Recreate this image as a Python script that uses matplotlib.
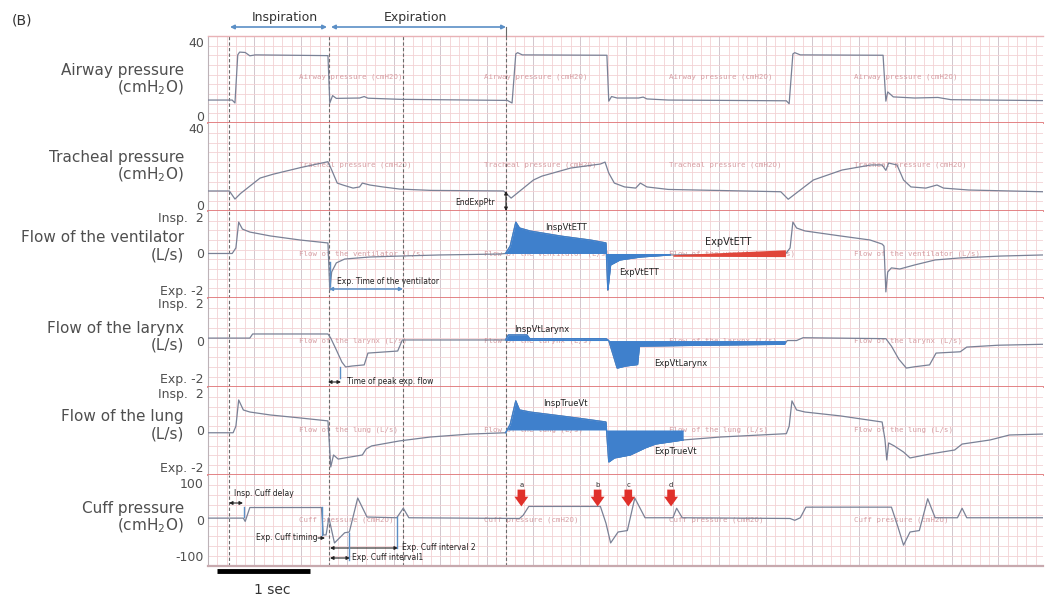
import numpy as np
import matplotlib
matplotlib.use("Agg")
import matplotlib.pyplot as plt
from matplotlib.patches import FancyArrowPatch
from matplotlib.ticker import MultipleLocator, FixedLocator

# ---------------- data (time in s; values in panel units) ----------------
airway_t = [0.00, 0.26, 0.29, 0.32, 0.34, 0.40, 0.45, 0.51, 1.29, 1.31, 1.34, 1.38, 1.63, 1.68,
            1.72, 2.06, 3.22, 3.27, 3.31, 3.33, 3.38, 4.29, 4.31, 4.34, 4.40, 4.63, 4.68, 4.72,
            4.95, 6.22, 6.25, 6.29, 6.31, 6.37, 7.26, 7.29, 7.31, 7.37, 7.60, 7.85, 7.99, 8.98]
airway_v = [8.6, 8.6, 7.0, 33.0, 34.5, 34.3, 32.5, 33.0, 32.6, 7.0, 11.0, 9.5, 9.7, 10.5,
            9.6, 9.0, 8.4, 7.0, 33.5, 34.2, 33.0, 32.8, 8.0, 10.5, 9.7, 9.7, 10.2, 9.2,
            8.6, 8.2, 6.6, 33.5, 34.2, 33.0, 32.8, 8.0, 13.0, 10.3, 9.7, 10.0, 8.8, 8.3]

tracheal_t = [0.00, 0.23, 0.29, 0.35, 0.56, 0.70, 1.00, 1.29, 1.33, 1.39, 1.45, 1.56, 1.63, 1.66,
              1.74, 1.88, 2.06, 2.40, 3.18, 3.26, 3.50, 3.59, 3.90, 4.22, 4.27, 4.31, 4.37, 4.48,
              4.60, 4.65, 4.72, 4.95, 6.16, 6.24, 6.51, 6.82, 7.13, 7.25, 7.29, 7.32, 7.41, 7.48,
              7.56, 7.72, 7.84, 7.91, 8.18, 8.98]
tracheal_v = [7.3, 7.3, 3.1, 6.0, 14.0, 16.0, 19.5, 22.5, 18.2, 11.4, 10.4, 8.8, 9.4, 11.4,
              10.4, 9.4, 8.3, 7.6, 7.3, 3.6, 13.0, 15.0, 19.2, 21.3, 22.3, 16.6, 11.4, 9.4,
              8.8, 11.4, 9.4, 8.1, 6.9, 3.0, 13.0, 18.2, 20.8, 20.8, 18.0, 21.8, 20.8, 13.0,
              9.4, 8.8, 10.4, 8.8, 7.8, 6.9]

vent_t = [0.00, 0.26, 0.30, 0.33, 0.37, 0.45, 0.67, 0.99, 1.29, 1.31, 1.33, 1.38, 1.47, 1.74,
          2.06, 2.49, 3.14, 3.20, 3.25, 3.31, 3.35, 3.46, 3.78, 4.11, 4.28, 4.30, 4.33, 4.43,
          4.65, 4.97, 6.21, 6.26, 6.29, 6.33, 6.42, 6.80, 7.12, 7.25, 7.27, 7.29, 7.31, 7.35,
          7.44, 7.60, 7.82, 8.09, 8.52, 8.98]
vent_v = [0.0, 0.0, 0.3, 1.70, 1.32, 1.16, 0.95, 0.73, 0.57, -2.0, -1.0, -0.51, -0.30, -0.19,
          -0.14, -0.08, -0.03, 0.0, 0.4, 1.70, 1.38, 1.22, 0.95, 0.73, 0.57, -2.0, -0.62, -0.35,
          -0.19, -0.08, -0.03, 0.3, 1.70, 1.38, 1.22, 0.95, 0.73, 0.51, 0.40, -2.08, -1.0, -0.78,
          -0.84, -0.62, -0.35, -0.24, -0.14, -0.08]

larynx_t = [0.00, 0.45, 0.48, 1.29, 1.32, 1.38, 1.44, 1.48, 1.55, 1.68, 1.72, 2.04, 2.09, 3.20,
            3.23, 3.43, 3.46, 4.28, 4.31, 4.36, 4.40, 4.49, 4.62, 4.64, 5.29, 6.20, 6.23, 6.33,
            6.40, 7.29, 7.35, 7.43, 7.51, 7.60, 7.76, 7.83, 8.09, 8.16, 8.50, 8.98]
larynx_v = [0.13, 0.13, 0.35, 0.35, 0.13, -0.5, -1.15, -1.41, -1.36, -1.30, -0.67, -0.56, 0.03, 0.03,
            0.30, 0.30, 0.10, 0.10, 0.0, -0.8, -1.47, -1.36, -1.28, -0.30, -0.25, -0.20, 0.0, 0.0,
            0.15, 0.10, -0.3, -1.0, -1.47, -1.40, -1.30, -0.67, -0.60, -0.35, -0.25, -0.20]

lung_t = [0.00, 0.27, 0.30, 0.33, 0.38, 0.45, 0.67, 0.99, 1.29, 1.30, 1.32, 1.35, 1.40, 1.53,
          1.66, 1.70, 1.76, 2.06, 2.39, 2.82, 3.20, 3.25, 3.31, 3.35, 3.46, 3.89, 4.28, 4.29,
          4.31, 4.37, 4.54, 4.70, 4.81, 5.11, 5.51, 6.22, 6.25, 6.28, 6.33, 6.42, 6.80, 7.25,
          7.28, 7.30, 7.32, 7.38, 7.48, 7.55, 7.76, 8.03, 8.11, 8.41, 8.62, 8.98]
lung_v = [-0.15, -0.15, 0.2, 1.62, 1.08, 0.97, 0.81, 0.65, 0.49, -0.3, -2.0, -1.35, -1.57, -1.46,
          -1.35, -1.03, -0.86, -0.59, -0.38, -0.22, -0.15, 0.3, 1.57, 1.08, 0.97, 0.70, 0.43, -0.3,
          -1.73, -1.51, -1.35, -0.97, -0.76, -0.54, -0.38, -0.20, 0.2, 1.57, 1.08, 0.97, 0.76, 0.43,
          -0.5, -1.62, -0.70, -0.86, -1.19, -1.51, -1.30, -1.08, -0.76, -0.54, -0.27, -0.22]

cuff_t = [0.00, 0.38, 0.40, 0.45, 1.22, 1.24, 1.27, 1.30, 1.36, 1.47, 1.52, 1.61, 1.71, 2.03,
          2.10, 2.16, 3.35, 3.39, 3.45, 4.22, 4.28, 4.33, 4.41, 4.51, 4.59, 4.70, 5.00, 5.04,
          5.10, 6.26, 6.31, 6.37, 6.43, 7.35, 7.42, 7.48, 7.55, 7.65, 7.74, 7.82, 8.06, 8.11,
          8.16, 8.98]
cuff_v = [4, 4, -5, 33, 33, -42, -42, 5, -64, -36, -34, 59, 7, 5,
          31, 5, 3, 12, 36, 36, -10, -64, -34, -30, 59, 5, 5, 31,
          5, 3, -2, 5, 34, 34, -20, -70, -34, -30, 57, 5, 5, 31,
          5, 5]

# highlighted (second breath) regions
vent_fill = (3.20, 4.97)
larynx_fill = (3.20, 6.21)
lung_fill = (3.20, 5.11)
red_t = [5.00, 6.21]
red_lo = [-0.15, -0.17]
red_hi = [-0.07, 0.20]

events = [0.23, 1.30, 2.10, 3.20]          # dashed marker lines
wm_times = [0.98, 2.97, 4.96, 6.95]
arrow_times = [3.37, 4.19, 4.52, 4.98]
arrow_letters = ['a', 'b', 'c', 'd']

panels = [
    dict(name='Airway pressure', unit='(cmH$_2$O)', ylim=(-3.8, 43.2), ticks=[0, 40],
         tl=['0', '40'], wm='Airway pressure (cmH2O)', wmy=21, t=airway_t, v=airway_v, ny=(70, 88)),
    dict(name='Tracheal pressure', unit='(cmH$_2$O)', ylim=(-3.1, 42.6), ticks=[0, 40],
         tl=['0', '40'], wm='Tracheal pressure (cmH2O)', wmy=20.8, t=tracheal_t, v=tracheal_v, ny=(157, 175)),
    dict(name='Flow of the ventilator', unit='(L/s)', ylim=(-2.41, 2.30), ticks=[-2, 0, 2],
         tl=['Exp. -2', '0', 'Insp.  2'], wm='Flow of the ventilator (L/s)', wmy=0, t=vent_t, v=vent_v, ny=(238, 255)),
    dict(name='Flow of the larynx', unit='(L/s)', ylim=(-2.48, 2.27), ticks=[-2, 0, 2],
         tl=['Exp. -2', '0', 'Insp.  2'], wm='Flow of the larynx (L/s)', wmy=0, t=larynx_t, v=larynx_v, ny=(328, 345)),
    dict(name='Flow of the lung', unit='(L/s)', ylim=(-2.43, 2.32), ticks=[-2, 0, 2],
         tl=['Exp. -2', '0', 'Insp.  2'], wm='Flow of the lung (L/s)', wmy=0, t=lung_t, v=lung_v, ny=(417, 434)),
    dict(name='Cuff pressure', unit='(cmH$_2$O)', ylim=(-127, 122), ticks=[-100, 0, 100],
         tl=['-100', '0', '100'], wm='Cuff pressure (cmH2O)', wmy=0, t=cuff_t, v=cuff_v, ny=(508, 526)),
]

# ---------------- figure ----------------
W, H = 1048, 597
fig = plt.figure(figsize=(W / 100, H / 100), dpi=100)
fig.patch.set_facecolor('white')
LEFT, RIGHT = 208, 1043
edges = [36, 123, 211, 298, 387, 475, 566]
T0, T1 = 0.0, 8.98

TRACE = '#7a8196'
FILL = '#3f80cc'
BLUE = '#5b8fc6'
TXT = '#4f4f4f'


def fp(x, y):
    return (x / W, 1 - y / H)


def arrow(x1, y1, x2, y2, color='#222222', style='<|-|>', lw=0.8, ms=5):
    fig.add_artist(FancyArrowPatch(fp(x1, y1), fp(x2, y2), transform=fig.transFigure,
                                   arrowstyle=style, mutation_scale=ms, color=color, lw=lw,
                                   shrinkA=0, shrinkB=0))


def vline(x, y1, y2, color=BLUE, lw=1.0):
    fig.add_artist(plt.Line2D([x / W, x / W], [1 - y1 / H, 1 - y2 / H], transform=fig.transFigure,
                              color=color, lw=lw))


def note(x, y, s, size=5.5, color='#222222', ha='left'):
    fig.text(*fp(x, y), s, fontsize=size, color=color, ha=ha, va='center')


axes = []
for i, p in enumerate(panels):
    top, bot = edges[i], edges[i + 1]
    ax = fig.add_axes([LEFT / W, 1 - bot / H, (RIGHT - LEFT) / W, (bot - top) / H])
    ax.set_xlim(T0, T1)
    lo, hi = p['ylim']
    ax.set_ylim(lo, hi)
    ax.xaxis.set_major_locator(MultipleLocator(0.5))
    ax.xaxis.set_minor_locator(MultipleLocator(0.1))
    ax.yaxis.set_minor_locator(FixedLocator(np.linspace(lo, hi, 10)[1:-1]))
    ax.set_yticks(p['ticks'])
    ax.set_yticklabels(p['tl'], fontsize=9, color=TXT)
    ax.tick_params(axis='y', which='both', length=0, pad=3)
    ax.tick_params(axis='x', which='both', length=0, labelbottom=False)
    ax.grid(which='minor', axis='both', color='#f2d2d5', lw=0.6)
    ax.grid(which='major', axis='x', color='#d2c6cd', lw=0.7)
    ax.set_axisbelow(True)
    ax.spines['right'].set_visible(False)
    ax.spines['left'].set_color('#bdb3b8')
    ax.spines['left'].set_linewidth(0.8)
    if i == 0:
        ax.spines['top'].set_color('#e8b2b6')
        ax.spines['top'].set_linewidth(1.0)
    else:
        ax.spines['top'].set_visible(False)
    if i == len(panels) - 1:
        ax.spines['bottom'].set_color('#c7a9ae')
        ax.spines['bottom'].set_linewidth(1.6)
    else:
        ax.spines['bottom'].set_color('#e07a7c')
        ax.spines['bottom'].set_linewidth(1.3)

    for tx in wm_times:
        ax.text(tx, p['wmy'], p['wm'], fontsize=5.3, family='DejaVu Sans Mono', color='#d69da2',
                va='center', ha='left', clip_on=True, zorder=1)
    for ev in events:
        ax.axvline(ev, color='#6a6a6a', ls=(0, (3, 2)), lw=0.8, zorder=2)
    ax.plot(p['t'], p['v'], color=TRACE, lw=0.9, zorder=3)

    fig.text(*fp(184, p['ny'][0]), p['name'], fontsize=11, color=TXT, ha='right', va='center')
    fig.text(*fp(184, p['ny'][1]), p['unit'], fontsize=11, color=TXT, ha='right', va='center')
    axes.append(ax)

ax_air, ax_tra, ax_vent, ax_lar, ax_lung, ax_cuff = axes


def shade(ax, t, v, rng):
    tt = np.linspace(rng[0], rng[1], 800)
    vv = np.interp(tt, t, v)
    ax.fill_between(tt, 0, vv, color=FILL, lw=0, zorder=4)
    ax.plot(tt, vv, color=FILL, lw=0.9, zorder=4)


shade(ax_vent, vent_t, vent_v, vent_fill)
shade(ax_lar, larynx_t, larynx_v, larynx_fill)
shade(ax_lung, lung_t, lung_v, lung_fill)
ax_vent.fill_between(red_t, red_lo, red_hi, color='#e0453a', lw=0, zorder=5)

# red event arrows in cuff panel
for tx, lt in zip(arrow_times, arrow_letters):
    ax_cuff.annotate('', xy=(tx, 36), xytext=(tx, 82),
                     arrowprops=dict(arrowstyle='simple,head_width=1.0,head_length=0.7,tail_width=0.55',
                                     color='#e0302a', lw=0, mutation_scale=10,
                                     shrinkA=0, shrinkB=0), zorder=6)
    ax_cuff.text(tx, 95, lt, fontsize=5, ha='center', va='center', color='#333333', zorder=6)

# dashed line extension to the top arrow
vline(506, 27, 36, color='#6a6a6a', lw=0.8)

# top labels
fig.text(*fp(12, 21), '(B)', fontsize=10, color='#333333', ha='left', va='center')
fig.text(*fp(285, 18), 'Inspiration', fontsize=9, color='#333333', ha='center', va='center')
fig.text(*fp(415, 18), 'Expiration', fontsize=9, color='#333333', ha='center', va='center')
arrow(230, 27, 327, 27, color=BLUE, lw=1.2, ms=6)
arrow(331, 27, 506, 27, color=BLUE, lw=1.2, ms=6)

# annotations
arrow(506, 191, 506, 211, ms=5)
note(455, 202, 'EndExpPtr')
note(545, 228, 'InspVtETT', size=6)
note(619, 272, 'ExpVtETT', size=6)
note(705, 242, 'ExpVtETT', size=7)
note(514, 330, 'InspVtLarynx', size=6)
note(654, 363, 'ExpVtLarynx', size=6)
note(543, 403, 'InspTrueVt', size=6)
note(654, 451, 'ExpTrueVt', size=6)

note(337, 281, 'Exp. Time of the ventilator')
arrow(329, 289, 403, 289, color=BLUE, lw=1.1, ms=5)
vline(330, 262, 286)

note(347, 382, 'Time of peak exp. flow')
arrow(328, 382, 341, 382, ms=5)
vline(340, 367, 378)

note(234, 493, 'Insp. Cuff delay')
arrow(229, 503, 243, 503, ms=5)
vline(244, 507, 517)
note(318, 538, 'Exp. Cuff timing', ha='right')
arrow(318, 538, 325, 538, style='-|>', ms=5)
vline(322, 507, 535)
note(402, 548, 'Exp. Cuff interval 2')
arrow(330, 548, 398, 548, ms=5)
vline(397, 517, 548)
note(352, 558, 'Exp. Cuff interval1')
arrow(330, 558, 350, 558, ms=5)
vline(349, 533, 560)

# 1-second scale bar
ax_cuff.plot([0.10, 1.10], [-0.055, -0.055], transform=ax_cuff.get_xaxis_transform(),
             color='black', lw=3.5, clip_on=False, solid_capstyle='butt')
fig.text(*fp(272, 590), '1 sec', fontsize=10, color='#333333', ha='center', va='center')

fig.savefig('out.png', dpi=100, facecolor='white')
